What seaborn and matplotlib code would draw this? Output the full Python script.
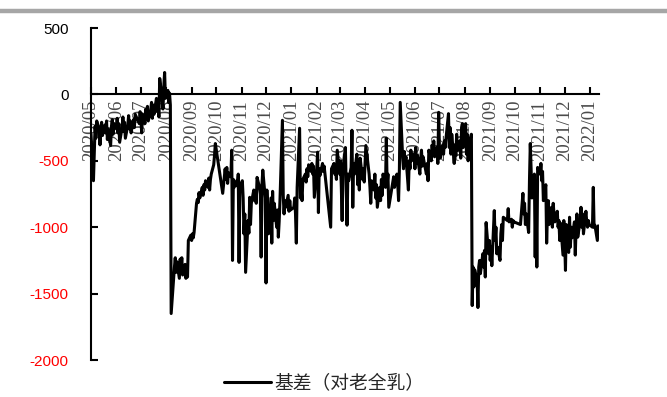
import matplotlib
matplotlib.use("Agg")
import matplotlib.pyplot as plt
import matplotlib.dates as mdates
from matplotlib.lines import Line2D
import pandas as pd
import seaborn as sns

# Basis series (spot vs. old whole-milk rubber), grouped by period
basis_2020_q2 = [
    ("2020-05-01", -300), ("2020-05-04", -650), ("2020-05-06", -240), ("2020-05-07", -330),
    ("2020-05-08", -200), ("2020-05-11", -270), ("2020-05-12", -380), ("2020-05-13", -250),
    ("2020-05-14", -210), ("2020-05-15", -310), ("2020-05-18", -230), ("2020-05-19", -290),
    ("2020-05-20", -200), ("2020-05-21", -340), ("2020-05-22", -260), ("2020-05-25", -385),
    ("2020-05-26", -240), ("2020-05-27", -190), ("2020-05-28", -300), ("2020-05-29", -220),
    ("2020-06-01", -260), ("2020-06-02", -180), ("2020-06-03", -290), ("2020-06-04", -220),
    ("2020-06-05", -360), ("2020-06-08", -250), ("2020-06-09", -170), ("2020-06-10", -280),
    ("2020-06-11", -210), ("2020-06-12", -330), ("2020-06-15", -230), ("2020-06-16", -160),
    ("2020-06-17", -260), ("2020-06-18", -200), ("2020-06-19", -290), ("2020-06-22", -190),
    ("2020-06-23", -250), ("2020-06-24", -150), ("2020-06-29", -220), ("2020-06-30", -130),
]
basis_2020_q3 = [
    ("2020-07-01", -200), ("2020-07-02", -290), ("2020-07-03", -150), ("2020-07-06", -220),
    ("2020-07-07", -110), ("2020-07-08", -180), ("2020-07-09", -90), ("2020-07-10", -200),
    ("2020-07-13", -120), ("2020-07-14", -60), ("2020-07-15", -180), ("2020-07-16", -80),
    ("2020-07-17", -150), ("2020-07-20", -30), ("2020-07-21", -130), ("2020-07-22", -60),
    ("2020-07-23", -170), ("2020-07-24", 120), ("2020-07-27", -40), ("2020-07-28", -110),
    ("2020-07-29", 60), ("2020-07-30", 165), ("2020-07-31", -30), ("2020-08-03", 30),
    ("2020-08-04", -60), ("2020-08-05", 10), ("2020-08-06", -80), ("2020-08-07", -1650),
    ("2020-08-10", -1380), ("2020-08-11", -1300), ("2020-08-12", -1230), ("2020-08-13", -1340),
    ("2020-08-14", -1260), ("2020-08-17", -1385), ("2020-08-18", -1240), ("2020-08-19", -1310),
    ("2020-08-20", -1230), ("2020-08-21", -1360), ("2020-08-24", -1280), ("2020-08-25", -1385),
    ("2020-08-26", -1300), ("2020-08-27", -1375), ("2020-08-28", -1100), ("2020-08-31", -1060),
    ("2020-09-01", -1100), ("2020-09-02", -1050), ("2020-09-03", -1080), ("2020-09-04", -1040),
    ("2020-09-07", -820), ("2020-09-08", -790), ("2020-09-09", -815), ("2020-09-10", -740),
    ("2020-09-11", -780), ("2020-09-14", -700), ("2020-09-15", -760), ("2020-09-16", -680),
    ("2020-09-17", -720), ("2020-09-18", -650), ("2020-09-21", -700), ("2020-09-22", -630),
    ("2020-09-23", -720), ("2020-09-24", -640), ("2020-09-25", -600), ("2020-09-28", -530),
    ("2020-09-29", -460), ("2020-09-30", -370),
]
basis_2020_q4 = [
    ("2020-10-09", -745), ("2020-10-12", -560), ("2020-10-13", -640), ("2020-10-14", -550),
    ("2020-10-15", -670), ("2020-10-16", -590), ("2020-10-19", -620), ("2020-10-20", -420),
    ("2020-10-21", -1250), ("2020-10-22", -640), ("2020-10-23", -700), ("2020-10-26", -650),
    ("2020-10-27", -690), ("2020-10-28", -600), ("2020-10-29", -1265), ("2020-10-30", -700),
    ("2020-11-02", -650), ("2020-11-03", -780), ("2020-11-04", -1050), ("2020-11-05", -900),
    ("2020-11-06", -1340), ("2020-11-09", -950), ("2020-11-10", -1045), ("2020-11-11", -775),
    ("2020-11-12", -980), ("2020-11-13", -820), ("2020-11-16", -720), ("2020-11-17", -800),
    ("2020-11-18", -750), ("2020-11-19", -820), ("2020-11-20", -625), ("2020-11-23", -700),
    ("2020-11-24", -750), ("2020-11-25", -1225), ("2020-11-26", -680), ("2020-11-27", -570),
    ("2020-11-30", -780), ("2020-12-01", -1420), ("2020-12-02", -720), ("2020-12-03", -900),
    ("2020-12-04", -1050), ("2020-12-07", -780), ("2020-12-08", -1120), ("2020-12-09", -730),
    ("2020-12-10", -950), ("2020-12-11", -820), ("2020-12-14", -1000), ("2020-12-15", -870),
    ("2020-12-16", -1075), ("2020-12-17", -960), ("2020-12-18", -800), ("2020-12-21", -195),
    ("2020-12-22", -760), ("2020-12-23", -900), ("2020-12-24", -800), ("2020-12-25", -850),
    ("2020-12-28", -760), ("2020-12-29", -880), ("2020-12-30", -800), ("2020-12-31", -870),
]
basis_2021_h1 = [
    ("2021-01-04", -850), ("2021-01-05", -780), ("2021-01-06", -900), ("2021-01-07", -1120),
    ("2021-01-08", -700), ("2021-01-11", -255), ("2021-01-12", -780), ("2021-01-13", -720),
    ("2021-01-14", -800), ("2021-01-15", -640), ("2021-01-18", -600), ("2021-01-19", -660),
    ("2021-01-20", -560), ("2021-01-21", -620), ("2021-01-22", -530), ("2021-01-25", -580),
    ("2021-01-26", -520), ("2021-01-27", -600), ("2021-01-28", -540), ("2021-01-29", -775),
    ("2021-02-01", -560), ("2021-02-02", -435), ("2021-02-03", -890), ("2021-02-04", -560),
    ("2021-02-05", -610), ("2021-02-08", -520), ("2021-02-09", -580), ("2021-02-10", -540),
    ("2021-02-18", -1000), ("2021-02-19", -560), ("2021-02-22", -520), ("2021-02-23", -600),
    ("2021-02-24", -560), ("2021-02-25", -640), ("2021-02-26", -420), ("2021-03-01", -600),
    ("2021-03-02", -500), ("2021-03-03", -700), ("2021-03-04", -950), ("2021-03-05", -560),
    ("2021-03-08", -400), ("2021-03-09", -720), ("2021-03-10", -985), ("2021-03-11", -600),
    ("2021-03-12", -650), ("2021-03-15", -550), ("2021-03-16", -270), ("2021-03-17", -850),
    ("2021-03-18", -520), ("2021-03-19", -600), ("2021-03-22", -450), ("2021-03-23", -680),
    ("2021-03-24", -560), ("2021-03-25", -720), ("2021-03-26", -480), ("2021-03-29", -640),
    ("2021-03-30", -560), ("2021-03-31", -660), ("2021-04-01", -520), ("2021-04-02", -385),
    ("2021-04-06", -600), ("2021-04-07", -700), ("2021-04-08", -820), ("2021-04-09", -650),
    ("2021-04-12", -720), ("2021-04-13", -600), ("2021-04-14", -780), ("2021-04-15", -680),
    ("2021-04-16", -850), ("2021-04-19", -700), ("2021-04-20", -800), ("2021-04-21", -640),
    ("2021-04-22", -760), ("2021-04-23", -600), ("2021-04-26", -700), ("2021-04-27", -330),
    ("2021-04-28", -680), ("2021-04-29", -600), ("2021-04-30", -850), ("2021-05-06", -620),
    ("2021-05-07", -700), ("2021-05-10", -600), ("2021-05-11", -680), ("2021-05-12", -800),
    ("2021-05-13", -560), ("2021-05-14", -60), ("2021-05-17", -480), ("2021-05-18", -560),
    ("2021-05-19", -430), ("2021-05-20", -520), ("2021-05-21", -470), ("2021-05-24", -720),
    ("2021-05-25", -500), ("2021-05-26", -560), ("2021-05-27", -420), ("2021-05-28", -500),
    ("2021-05-31", -450), ("2021-06-01", -560), ("2021-06-02", -400), ("2021-06-03", -520),
    ("2021-06-04", -460), ("2021-06-07", -600), ("2021-06-08", -480), ("2021-06-09", -420),
    ("2021-06-10", -540), ("2021-06-11", -470), ("2021-06-15", -600), ("2021-06-16", -520),
    ("2021-06-17", -650), ("2021-06-18", -420), ("2021-06-21", -500), ("2021-06-22", -380),
    ("2021-06-23", -460), ("2021-06-24", -350), ("2021-06-25", -470), ("2021-06-28", -400),
    ("2021-06-29", -520), ("2021-06-30", -135),
]
basis_2021_h2 = [
    ("2021-07-01", -420), ("2021-07-02", -480), ("2021-07-05", -380), ("2021-07-06", -450),
    ("2021-07-07", -350), ("2021-07-08", -400), ("2021-07-09", -330), ("2021-07-12", -145),
    ("2021-07-13", -400), ("2021-07-14", -250), ("2021-07-15", -450), ("2021-07-16", -300),
    ("2021-07-19", -520), ("2021-07-20", -380), ("2021-07-21", -460), ("2021-07-22", -300),
    ("2021-07-23", -420), ("2021-07-26", -350), ("2021-07-27", -480), ("2021-07-28", -250),
    ("2021-07-29", -220), ("2021-07-30", -400), ("2021-08-02", -220), ("2021-08-03", -450),
    ("2021-08-04", -300), ("2021-08-05", -500), ("2021-08-06", -380), ("2021-08-09", -300),
    ("2021-08-10", -1590), ("2021-08-11", -1300), ("2021-08-12", -1450), ("2021-08-13", -1320),
    ("2021-08-16", -1400), ("2021-08-17", -1605), ("2021-08-18", -1300), ("2021-08-19", -1250),
    ("2021-08-20", -1350), ("2021-08-23", -1200), ("2021-08-24", -1300), ("2021-08-25", -1175),
    ("2021-08-26", -1375), ("2021-08-27", -965), ("2021-08-30", -1200), ("2021-08-31", -1100),
    ("2021-09-01", -1250), ("2021-09-02", -1150), ("2021-09-03", -1290), ("2021-09-06", -875),
    ("2021-09-07", -1100), ("2021-09-08", -1000), ("2021-09-09", -1200), ("2021-09-10", -1150),
    ("2021-09-13", -1250), ("2021-09-14", -1050), ("2021-09-15", -980), ("2021-09-16", -1100),
    ("2021-09-17", -925), ("2021-09-22", -950), ("2021-09-23", -860), ("2021-09-24", -960),
    ("2021-09-27", -940), ("2021-09-28", -1000), ("2021-09-29", -950), ("2021-09-30", -960),
    ("2021-10-08", -980), ("2021-10-11", -745), ("2021-10-12", -900), ("2021-10-13", -820),
    ("2021-10-14", -980), ("2021-10-15", -900), ("2021-10-18", -1040), ("2021-10-19", -650),
    ("2021-10-20", -370), ("2021-10-21", -560), ("2021-10-22", -780), ("2021-10-25", -600),
    ("2021-10-26", -1225), ("2021-10-27", -650), ("2021-10-28", -1300), ("2021-10-29", -550),
    ("2021-11-01", -600), ("2021-11-02", -520), ("2021-11-03", -650), ("2021-11-04", -580),
    ("2021-11-05", -800), ("2021-11-08", -680), ("2021-11-09", -1120), ("2021-11-10", -900),
    ("2021-11-11", -800), ("2021-11-12", -980), ("2021-11-15", -850), ("2021-11-16", -1000),
    ("2021-11-17", -820), ("2021-11-18", -900), ("2021-11-19", -960), ("2021-11-22", -880),
    ("2021-11-23", -1000), ("2021-11-24", -950), ("2021-11-25", -1100), ("2021-11-26", -970),
    ("2021-11-29", -1210), ("2021-11-30", -950), ("2021-12-01", -1100), ("2021-12-02", -1325),
    ("2021-12-03", -980), ("2021-12-06", -1190), ("2021-12-07", -925), ("2021-12-08", -1150),
    ("2021-12-09", -1000), ("2021-12-10", -1080), ("2021-12-13", -960), ("2021-12-14", -1210),
    ("2021-12-15", -1000), ("2021-12-16", -900), ("2021-12-17", -1075), ("2021-12-20", -950),
    ("2021-12-21", -850), ("2021-12-22", -1000), ("2021-12-23", -900), ("2021-12-24", -1050),
    ("2021-12-27", -880), ("2021-12-28", -960), ("2021-12-29", -1000), ("2021-12-30", -950),
    ("2021-12-31", -980),
]
basis_2022 = [
    ("2022-01-04", -1000), ("2022-01-05", -700), ("2022-01-06", -1000), ("2022-01-07", -985),
    ("2022-01-10", -1100), ("2022-01-11", -990), ("2022-01-12", -1050),
]

series_label = "基差（对老全乳）"
y_ticks = [500, 0, -500, -1000, -1500, -2000]

rows = basis_2020_q2 + basis_2020_q3 + basis_2020_q4 + basis_2021_h1 + basis_2021_h2 + basis_2022
df = pd.DataFrame(rows, columns=["date", "basis"])
df["date"] = pd.to_datetime(df["date"])

sns.set_theme(style="white")
plt.rcParams["font.family"] = ["Liberation Sans", "DejaVu Sans"]

fig = plt.figure(figsize=(6.67, 3.97), dpi=100)
ax = fig.add_axes([91 / 667, 1 - 360 / 397, (599 - 91) / 667, (360 - 28) / 397])

sns.lineplot(data=df, x="date", y="basis", ax=ax, color="black", linewidth=2.2,
             estimator=None, label=series_label)

ax.set_xlim(pd.Timestamp("2020-05-01"), pd.Timestamp("2022-01-12"))
ax.set_ylim(-2000, 500)
ax.set_xlabel("")
ax.set_ylabel("")

for side in ("top", "right"):
    ax.spines[side].set_visible(False)
ax.spines["bottom"].set_position(("data", 0))
for side in ("left", "bottom"):
    ax.spines[side].set_color("black")
    ax.spines[side].set_linewidth(1.5)

ax.xaxis.set_major_locator(mdates.MonthLocator())
ax.xaxis.set_major_formatter(mdates.DateFormatter("%Y/%m"))
ax.tick_params(axis="x", which="major", bottom=True, direction="in", length=5, width=1.5,
               color="black", pad=4, labelrotation=90, labelsize=13.5, labelcolor="#4a4a4a")
for lbl in ax.get_xticklabels():
    lbl.set_family(["Liberation Serif", "DejaVu Serif"])

ax.set_yticks(y_ticks)
ax.set_yticklabels([str(v) for v in y_ticks])
ax.tick_params(axis="y", which="major", left=True, direction="in", length=5, width=1.5,
               color="black", pad=16, labelsize=11)
for lbl, v in zip(ax.get_yticklabels(), y_ticks):
    lbl.set_color("#FF0000" if v < 0 else "black")

ax.grid(False)

leg = ax.legend(loc="center", bbox_to_anchor=(324 / 667, 1 - 383 / 397),
                bbox_transform=fig.transFigure, frameon=False, handlelength=2.5,
                handletextpad=0.2, prop={"family": ["Noto Sans CJK SC", "DejaVu Sans"], "size": 13.5})

# thin grey rule across the top of the figure
fig.add_artist(Line2D([0, 1], [1 - 10.5 / 397, 1 - 10.5 / 397], transform=fig.transFigure,
                      color="#a6a6a6", linewidth=3.2))

fig.savefig("out.png", dpi=100)
